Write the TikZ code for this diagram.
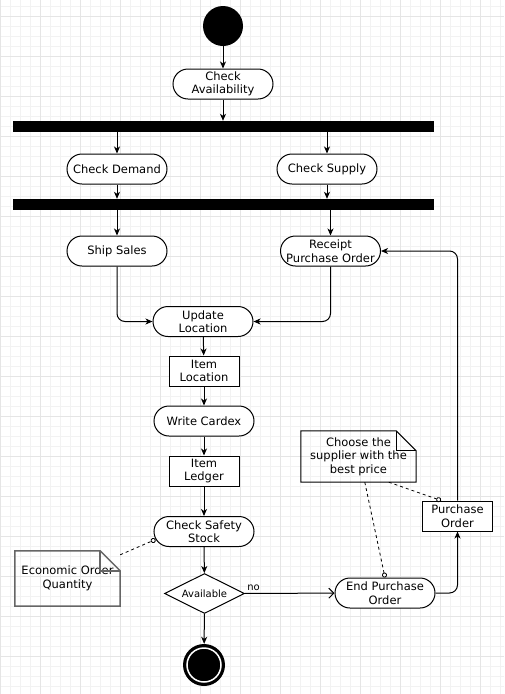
\documentclass[tikz,border=0pt]{standalone}
\usepackage{fontspec}
\setmainfont{DejaVu Sans}
\usetikzlibrary{arrows.meta,calc,shapes.geometric}

\tikzset{
  txt/.style={font=\fontsize{11.5}{13.5}\selectfont},
  action/.style={txt, draw, line width=1pt, rectangle, rounded corners=15pt,
    minimum width=100pt, minimum height=30pt, inner sep=0pt, align=center, fill=white},
  object/.style={txt, draw, line width=1pt, rectangle,
    minimum width=70pt, minimum height=30pt, inner sep=0pt, align=center, fill=white},
  decision/.style={diamond, draw, line width=1pt, shape aspect=2, minimum width=80pt,
    minimum height=40pt, inner sep=0pt, fill=white, font=\fontsize{10}{12}\selectfont},
  bar/.style={fill=black, minimum width=421pt, minimum height=11pt, inner sep=0pt},
  startstate/.style={circle, fill=black, minimum size=40pt, inner sep=0pt},
  endstate/.style={circle, fill=black, minimum size=42pt, inner sep=0pt},
  notetext/.style={txt, align=center, inner sep=0pt},
  flow/.style={-{Stealth[length=7pt,width=6pt,inset=2pt]}, line width=1pt, rounded corners=8pt},
  openflow/.style={-{Straight Barb[length=5pt,width=10pt]}, line width=1pt},
  notelink/.style={line width=0.8pt, dash pattern=on 3pt off 3pt, -{Circle[open,length=5pt]}},
  minorgrid/.style={draw=black!5, line width=0.8pt},
  majorgrid/.style={draw=black!10, line width=1pt},
}

\begin{document}
\begin{tikzpicture}[x=1pt, y=-1pt]
  \useasboundingbox (0,0) rectangle (504,694);

  % Background grid
  \fill[white] (0,0) rectangle (504,694);
  \foreach \x in {10,20,...,500} \draw[minorgrid] (\x,0) -- (\x,694);
  \foreach \y in {6,16,...,686} \draw[minorgrid] (0,\y) -- (504,\y);
  \foreach \x in {0,40,...,480} \draw[majorgrid] (\x,0) -- (\x,694);
  \foreach \y in {16,56,...,656} \draw[majorgrid] (0,\y) -- (504,\y);

  % Define nodes
  \node[startstate] (start) at (223,26) {};
  \node[action] (avail) at (223,84) {Check\\Availability};
  \node[bar] (fork) at (223.5,126.5) {};
  \node[action] (demand) at (117,169) {Check Demand};
  \node[action] (supply) at (327,169) {Check Supply};
  \node[bar] (join) at (223.5,204.5) {};
  \node[action] (ship) at (117,251) {Ship Sales};
  \node[action] (receipt) at (330.5,251) {Receipt\\Purchase Order};
  \node[action] (update) at (203,321.5) {Update\\Location};
  \node[object] (itemloc) at (204,371) {Item\\Location};
  \node[action] (cardex) at (204,421) {Write Cardex};
  \node[object] (ledger) at (204,471) {Item\\Ledger};
  \node[action] (safety) at (204,531.5) {Check Safety\\Stock};
  \node[decision] (check) at (204.5,593.5) {Available};
  \node[endstate] (stop) at (204,665) {};
  \node[action] (endpo) at (385,593) {End Purchase\\Order};
  \node[object] (po) at (457.5,516) {Purchase\\Order};
  \node[notetext, minimum width=115pt, minimum height=51pt] (supnote) at (358.5,456.5)
    {Choose the\\supplier with the\\best price};
  \node[notetext, minimum width=105pt, minimum height=55pt] (eoqnote) at (67.5,578.5)
    {Economic Order\\Quantity};

  % Note outlines
  \draw[line width=1pt] (supnote.south west) -- (supnote.north west)
    -- ([xshift=-20pt]supnote.north east) -- ([yshift=-20pt]supnote.north east)
    -- (supnote.south east) -- cycle;
  \draw[line width=1pt] ([xshift=-20pt]supnote.north east) -- ++(0,20)
    -- ([yshift=-20pt]supnote.north east);
  \draw[black!60, line width=1.5pt] (eoqnote.south west) -- (eoqnote.north west)
    -- ([xshift=-20pt]eoqnote.north east) -- ([yshift=-20pt]eoqnote.north east)
    -- (eoqnote.south east) -- cycle;
  \draw[black!60, line width=1.5pt] ([xshift=-20pt]eoqnote.north east) -- ++(0,20)
    -- ([yshift=-20pt]eoqnote.north east);
  \draw[white, line width=1.5pt] (stop) circle (17pt);

  % Draw edges
  \draw[flow] (start) -- (avail);
  \draw[flow] (avail) -- (avail |- fork.north);
  \draw[flow] (demand |- fork.south) -- (demand);
  \draw[flow] (supply |- fork.south) -- (supply);
  \draw[flow] (demand) -- (demand |- join.north);
  \draw[flow] (supply) -- (supply |- join.north);
  \draw[flow] (ship |- join.south) -- (ship);
  \draw[flow] (receipt |- join.south) -- (receipt);
  \draw[flow] (ship) |- (update);
  \draw[flow] (receipt) |- (update);
  \draw[flow] (update) -- (itemloc);
  \draw[flow] (itemloc) -- (cardex);
  \draw[flow] (cardex) -- (ledger);
  \draw[flow] (ledger) -- (safety);
  \draw[flow] (safety) -- (check);
  \draw[flow] (check) -- (stop);
  \draw[openflow] (check) -- node[pos=0, above right, inner sep=2pt,
    font=\fontsize{10}{12}\selectfont] {no} (endpo);
  \draw[flow] (endpo) -| (po);
  \draw[flow] (po) |- (receipt);

  % Note links
  \draw[notelink] ($(supnote.south west)+(64,0)$) -- (endpo.north);
  \draw[notelink] ($(supnote.south west)+(88,0)$) -- ($(po.north west)+(19,0)$);
  \draw[notelink] ($(eoqnote.north east)+(0,4)$) -- ($(safety.west)+(2,8)$);
\end{tikzpicture}
\end{document}
